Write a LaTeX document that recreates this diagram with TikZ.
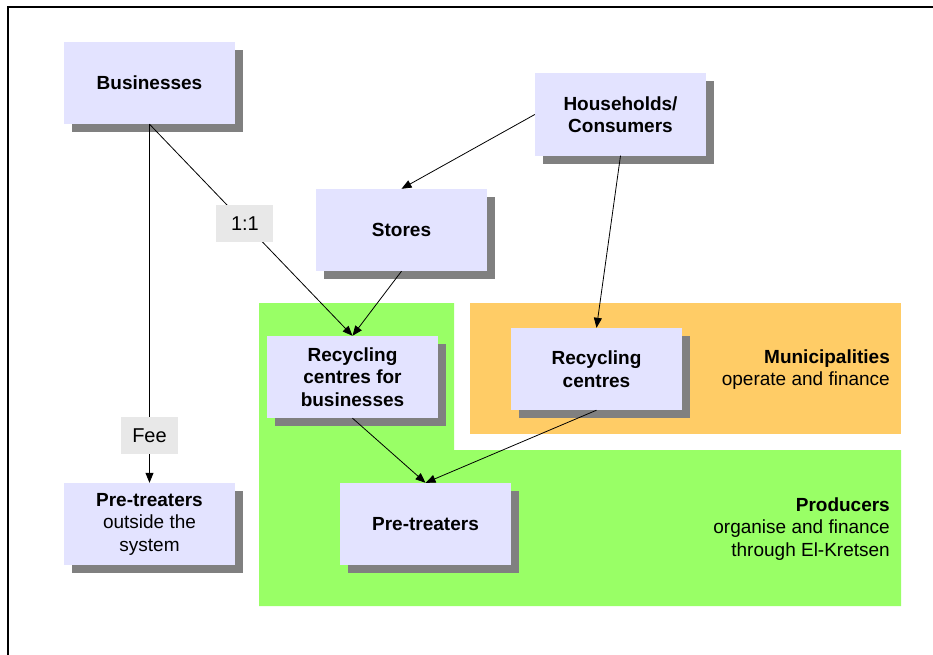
\documentclass[tikz,border=0pt]{standalone}
\usepackage{fontspec}
\setmainfont{Liberation Sans}
\usetikzlibrary{arrows.meta,shadows}
\definecolor{boxfill}{HTML}{E3E3FF}
\definecolor{shadowgray}{HTML}{808080}
\definecolor{greenreg}{HTML}{99FF66}
\definecolor{orangereg}{HTML}{FFCC66}
\definecolor{lblfill}{HTML}{E8E8E8}
\begin{document}
\begin{tikzpicture}[x=1bp,y=-1bp,
  every node/.style={font=\fontsize{19bp}{22.5bp}\selectfont, text=black},
  actor/.style={rectangle, fill=boxfill, minimum width=171bp, minimum height=82bp,
    inner sep=0pt, align=center, font=\fontsize{19bp}{22.5bp}\selectfont\bfseries,
    drop shadow={shadow xshift=8bp, shadow yshift=-8bp, fill=shadowgray, opacity=1}},
  lbl/.style={rectangle, fill=lblfill, minimum width=57bp, minimum height=37bp, inner sep=0pt,
    font=\fontsize{20bp}{24bp}\selectfont},
  arr/.style={draw=black, line width=0.8bp, -{Triangle[length=10bp,width=8bp]}},
  regtext/.style={anchor=east, align=right, inner sep=0pt}
]
\useasboundingbox (0,0) rectangle (933,655);
% frame
\draw[line width=2.2bp] (8,655) -- (8,7.3) -- (933,7.3);
% regions
\fill[greenreg] (259,303) -- (454,303) -- (454,450) -- (901,450) -- (901,606) -- (259,606) -- cycle;
\fill[orangereg] (470,303) rectangle (901,434);
\node[regtext] (muni) at (890,369.5) {\textbf{Municipalities}\\operate and finance};
\node[regtext] (prod) at (890,529) {\textbf{Producers}\\organise and finance\\through El-Kretsen};
% boxes
\node[actor] (bus) at (149.5,83) {Businesses};
\node[actor] (hh) at (620.5,114.5) {Households/\\Consumers};
\node[actor] (st) at (401.5,230) {Stores};
\node[actor] (rcb) at (352.5,377) {Recycling\\centres for\\businesses};
\node[actor] (rc) at (596.5,369) {Recycling\\centres};
\node[actor] (pt) at (425.5,524) {Pre-treaters};
\node[actor] (pto) at (149.5,524) {Pre-treaters\\\mdseries outside the\\\mdseries system};
% connectors
\draw[arr] (bus.south) -- node[lbl, pos=0.868] (fee) {Fee} (pto.north);
\draw[arr] (bus.south) -- node[lbl, pos=0.47] (one) {1:1} (rcb.north);
\draw[arr] (hh.west) -- (st.north);
\draw[arr] (hh.south) -- (rc.north);
\draw[arr] (st.south) -- (rcb.north);
\draw[arr] (rcb.south) -- (pt.north);
\draw[arr] (rc.south) -- (pt.north);
\end{tikzpicture}
\end{document}
